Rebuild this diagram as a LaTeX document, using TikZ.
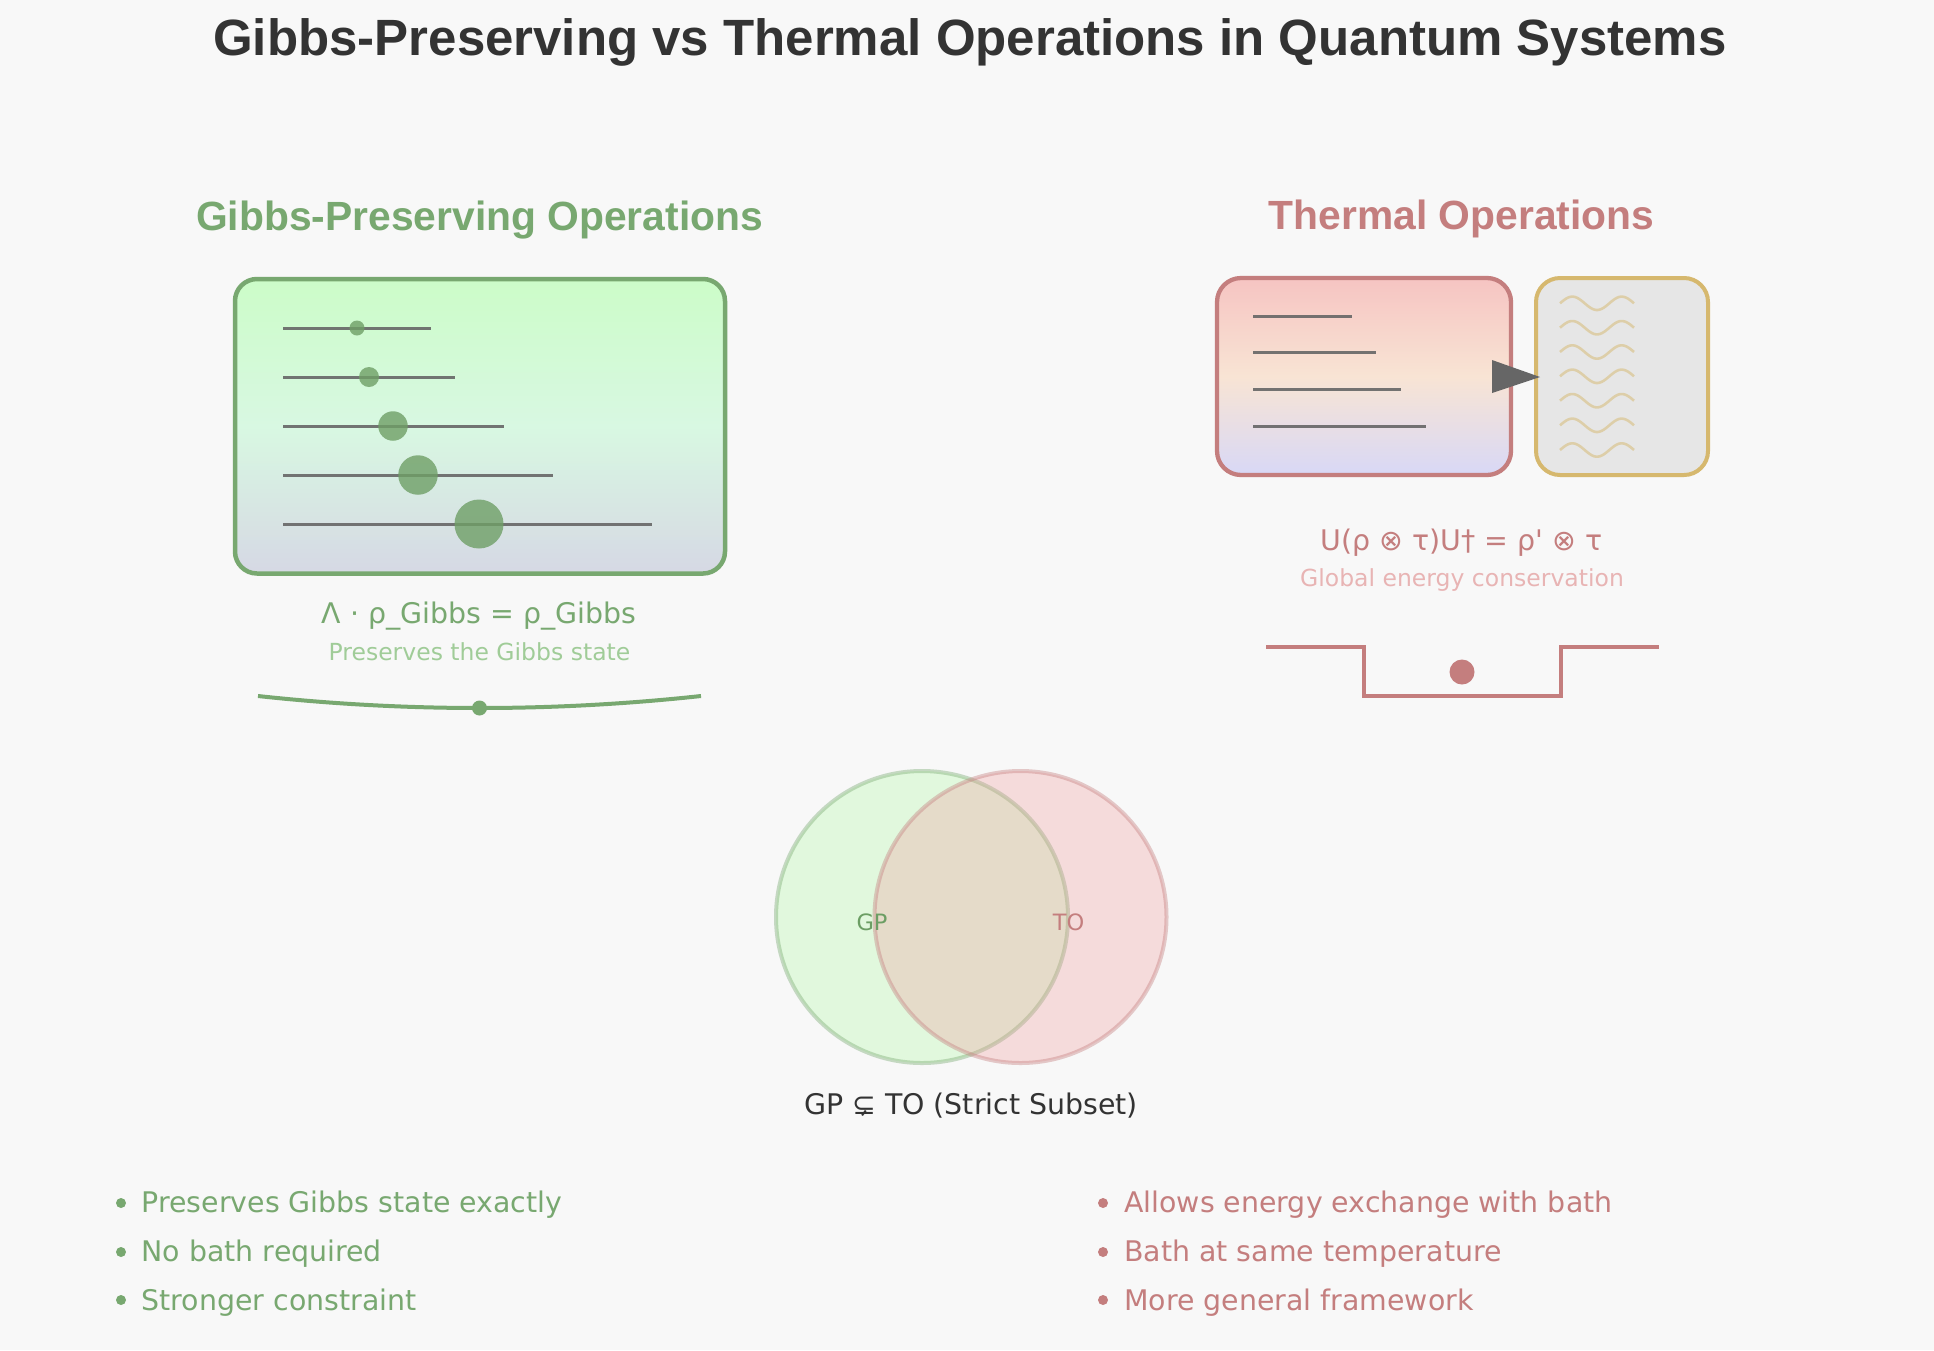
\documentclass[tikz,border=0pt]{standalone}
\usepackage{fontspec}
\newfontfamily\bodyfont{DejaVu Sans}
\newfontfamily\headfont{Liberation Sans}
\definecolor{bgc}{HTML}{F8F8F8}
\definecolor{titlec}{HTML}{333333}
\definecolor{gpc}{HTML}{78A870}
\definecolor{gpdark}{HTML}{6C9E64}
\definecolor{gplight}{HTML}{A0CC98}
\definecolor{toc}{HTML}{C47E7E}
\definecolor{tolight}{HTML}{E8B4B4}
\definecolor{gold}{HTML}{D6B86E}
\definecolor{grayl}{HTML}{666666}
\definecolor{bathfill}{HTML}{E6E6E6}
\definecolor{gptop}{HTML}{CCFCC8}
\definecolor{gpmid}{HTML}{D8F8E2}
\definecolor{gpbot}{HTML}{D6D8E4}
\definecolor{totop}{HTML}{F6C4C2}
\definecolor{tomid}{HTML}{F8E4D4}
\definecolor{tobot}{HTML}{D8D8F6}
\definecolor{vennG}{RGB}{175,248,161}
\definecolor{vennR}{RGB}{241,155,155}
\definecolor{popc}{HTML}{6F9F66}
\begin{document}
\begin{tikzpicture}[x=1pt,y=-1pt,
  txt/.style={inner sep=0pt, anchor=base},
  fbig/.style={font=\bodyfont\fontsize{28.4}{34}\selectfont},
  fsmall/.style={font=\bodyfont\fontsize{23.5}{28}\selectfont},
  fhead/.style={font=\headfont\bfseries\fontsize{40.8}{50}\selectfont},
  lvl/.style={draw=grayl, draw opacity=0.9, line width=3pt},
  pop/.style={circle, fill=popc, fill opacity=0.8, inner sep=0pt},
  wave/.style={draw=gold, draw opacity=0.5, line width=2.6pt},
  bul/.style={circle, inner sep=0pt, minimum size=10pt},
  venn/.style={circle, line width=4pt, minimum size=292pt, inner sep=0pt}
]
\useasboundingbox (0,0) rectangle (1934,1350);
\fill[bgc] (0,0) rectangle (1934,1350);

% title
\node[txt, font=\headfont\bfseries\fontsize{51}{60}\selectfont, text=titlec] (title) at (970,55) {Gibbs-Preserving vs Thermal Operations in Quantum Systems};

% headings
\node[txt, fhead, text=gpc] (gphead) at (479.5,230) {Gibbs-Preserving Operations};
\node[txt, fhead, text=toc] (tohead) at (1461.5,229) {Thermal Operations};

% GP box
\node[draw=gpc, line width=4.5pt, rounded corners=22pt, top color=gptop, bottom color=gpbot, middle color=gpmid,
      minimum width=490pt, minimum height=294.5pt, inner sep=0pt] (gpbox) at (480,426.25) {};
\draw[lvl] (283,328) -- (431,328);
\draw[lvl] (283,377) -- (455,377);
\draw[lvl] (283,426) -- (504,426);
\draw[lvl] (283,475) -- (553,475);
\draw[lvl] (283,524) -- (652,524);
\node[pop, minimum size=15pt] (p1) at (357,328) {};
\node[pop, minimum size=20pt] (p2) at (369,377) {};
\node[pop, minimum size=29.5pt] (p3) at (393,426) {};
\node[pop, minimum size=39.5pt] (p4) at (418,475) {};
\node[pop, minimum size=49pt] (p5) at (479,524) {};

\node[txt, fbig, text=gpc] (gpform) at (479,623) {Λ · ρ\_Gibbs = ρ\_Gibbs};
\node[txt, fsmall, text=gplight] (gpsub) at (479.5,660) {Preserves the Gibbs state};

% GP landscape arc
\coordinate (arcL) at (258,696);
\coordinate (arcR) at (701,696);
\draw[gpc, line width=4pt] (arcL) .. controls (405.3,712) and (553.7,712) .. (arcR);
\node[circle, fill=gpc, inner sep=0pt, minimum size=15pt] (arcdot) at (479.5,708) {};

% TO system box
\node[draw=toc, line width=4.3pt, rounded corners=24pt, top color=totop, bottom color=tobot, middle color=tomid,
      minimum width=294pt, minimum height=197pt, inner sep=0pt] (tobox) at (1364,376.5) {};
\draw[lvl] (1253,316) -- (1352,316);
\draw[lvl] (1253,352) -- (1376,352);
\draw[lvl] (1253,389) -- (1401,389);
\draw[lvl] (1253,426) -- (1426,426);

% bath box
\node[draw=gold, line width=4pt, rounded corners=24pt, fill=bathfill,
      minimum width=172pt, minimum height=197pt, inner sep=0pt] (bath) at (1622,376.5) {};
\foreach \yy in {303.3,327.7,352,376.3,400.7,425.3,450}{
  \draw[wave] plot[domain=0:74, samples=40, smooth] ({1560+\x},{\yy-6.7*sin(\x*7.297)});
}

% arrow between system and bath
\fill[grayl] (1492,360) -- (1540,377) -- (1492,393) -- cycle;

\node[txt, fbig, text=toc] (toform) at (1461.5,550) {U(ρ ⊗ τ)U† = ρ\char"27\ ⊗ τ};
\node[txt, fsmall, text=tolight] (tosub) at (1462,586) {Global energy conservation};

% potential well
\coordinate (wL) at (1266,647);
\coordinate (wR) at (1659,647);
\draw[toc, line width=4pt] (wL) -- (1364,647) -- (1364,696) -- (1561,696) -- (1561,647) -- (wR);
\node[circle, fill=toc, inner sep=0pt, minimum size=25pt] (wdot) at (1462,672) {};

% Venn
\node[venn, draw=gpc, draw opacity=0.4, fill=vennG, fill opacity=0.3] (vGP) at (922,917) {};
\node[venn, draw=toc, draw opacity=0.4, fill=vennR, fill opacity=0.3] (vTO) at (1020.5,917) {};
\node[txt, font=\bodyfont\fontsize{22.5}{27}\selectfont, text=gpdark] (gplab) at (872,930) {GP};
\node[txt, font=\bodyfont\fontsize{22.5}{27}\selectfont, text=toc] (tolab) at (1068.5,930) {TO};
\node[txt, fbig, text=titlec] (subset) at (971,1114) {GP ⊊ TO (Strict Subset)};

% bullets left
\node[bul, fill=gpc] (bl1) at (121,1203) {};
\node[bul, fill=gpc] (bl2) at (121,1252) {};
\node[bul, fill=gpc] (bl3) at (121,1300) {};
\node[txt, fbig, text=gpc, anchor=base west] (tl1) at (141.5,1212.5) {Preserves Gibbs state exactly};
\node[txt, fbig, text=gpc, anchor=base west] (tl2) at (141.5,1261.5) {No bath required};
\node[txt, fbig, text=gpc, anchor=base west] (tl3) at (141.5,1310) {Stronger constraint};

% bullets right
\node[bul, fill=toc] (br1) at (1103,1203) {};
\node[bul, fill=toc] (br2) at (1103,1252) {};
\node[bul, fill=toc] (br3) at (1103,1300) {};
\node[txt, fbig, text=toc, anchor=base west] (tr1) at (1124,1212.5) {Allows energy exchange with bath};
\node[txt, fbig, text=toc, anchor=base west] (tr2) at (1124,1261.5) {Bath at same temperature};
\node[txt, fbig, text=toc, anchor=base west] (tr3) at (1124,1310) {More general framework};
\end{tikzpicture}
\end{document}
